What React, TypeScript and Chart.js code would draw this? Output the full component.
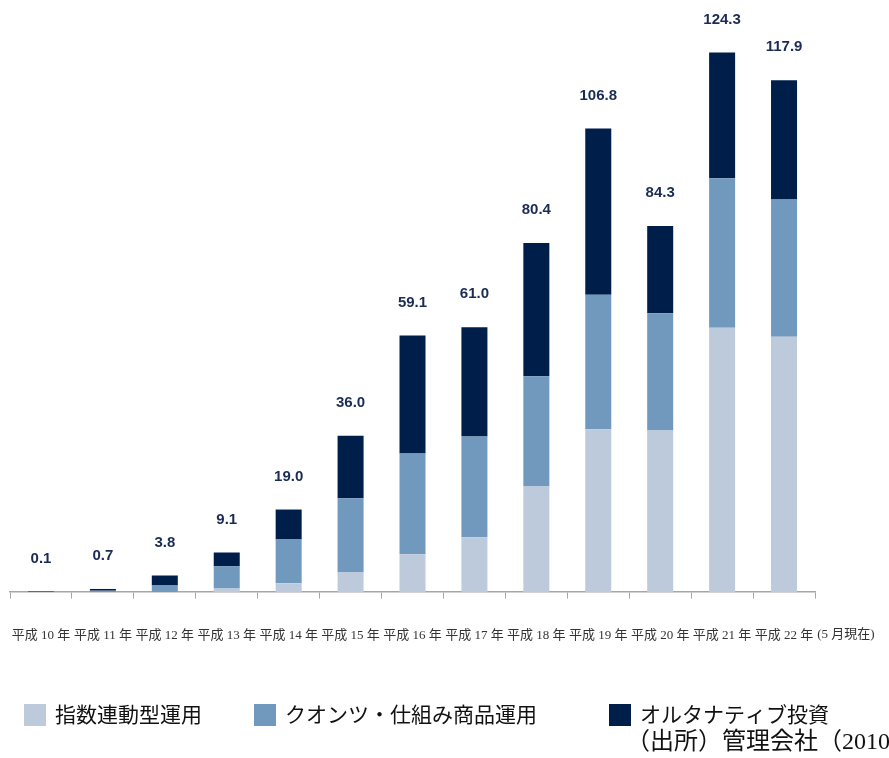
import React, { useEffect, useRef } from "react";
import { Chart, registerables } from "chart.js";

Chart.register(...registerables);

const categories: string[] = [
  "平成 10 年",
  "平成 11 年",
  "平成 12 年",
  "平成 13 年",
  "平成 14 年",
  "平成 15 年",
  "平成 16 年",
  "平成 17 年",
  "平成 18 年",
  "平成 19 年",
  "平成 20 年",
  "平成 21 年",
  "平成 22 年",
];
const lastCategoryNote = "(5 月現在)";

const indexLinked: number[] = [0, 0, 0, 0.8, 2.0, 4.5, 8.7, 12.6, 24.3, 37.5, 37.2, 60.9, 58.8];
const quantStructured: number[] = [0, 0.3, 1.5, 5.1, 10.1, 17.1, 23.2, 23.2, 25.4, 31.0, 27.0, 34.4, 31.6];
const alternative: number[] = [0.1, 0.4, 2.3, 3.2, 6.9, 14.4, 27.2, 25.2, 30.7, 38.3, 20.1, 29.0, 27.5];
const totals: number[] = [0.1, 0.7, 3.8, 9.1, 19.0, 36.0, 59.1, 61.0, 80.4, 106.8, 84.3, 124.3, 117.9];

const seriesNames: string[] = ["指数連動型運用", "クオンツ・仕組み商品運用", "オルタナティブ投資"];
const sourceLabel = "（出所）";
const sourceText = "管理会社（2010年5月現在）";

const COLORS = ["#bccadc", "#7099bd", "#001e4a"];
const TICK_FONT = '13px "Liberation Serif", "Noto Sans CJK JP", serif';

const totalsPlugin = {
  id: "totalsLabels",
  afterDatasetsDraw(chart: any) {
    const { ctx } = chart;
    const xs = chart.scales.x;
    const ys = chart.scales.y;
    ctx.save();
    ctx.font = 'bold 15px "Liberation Sans", Arial, sans-serif';
    ctx.fillStyle = "#1a2b54";
    ctx.textAlign = "center";
    ctx.textBaseline = "middle";
    totals.forEach((t, i) => {
      ctx.fillText(t.toFixed(1), xs.getPixelForValue(i), ys.getPixelForValue(t) - 33);
    });
    ctx.restore();
  },
};

const lastNotePlugin = {
  id: "lastCategoryNote",
  afterDraw(chart: any) {
    const { ctx } = chart;
    const xs = chart.scales.x;
    const last = categories.length - 1;
    ctx.save();
    ctx.font = TICK_FONT;
    ctx.fillStyle = "#333";
    ctx.textBaseline = "middle";
    ctx.textAlign = "left";
    const w = ctx.measureText(categories[last]).width;
    const cx = xs.getPixelForValue(last);
    const y = xs.top + 28 + 8 + 7;
    ctx.fillText(lastCategoryNote, cx + w / 2 + 4, y);
    ctx.restore();
  },
};

const legendPlugin = {
  id: "customLegend",
  afterDraw(chart: any) {
    const { ctx } = chart;
    const xPos = [24, 254, 609];
    ctx.save();
    ctx.textBaseline = "middle";
    ctx.textAlign = "left";
    ctx.font = '21px "Noto Sans CJK JP", sans-serif';
    chart.data.datasets.forEach((ds: any, i: number) => {
      ctx.fillStyle = ds.backgroundColor;
      ctx.fillRect(xPos[i], 704, 22, 22);
      ctx.fillStyle = "#111";
      ctx.fillText(ds.label, xPos[i] + 31, 714);
    });
    ctx.font = '24px "Liberation Serif", "Noto Sans CJK JP", serif';
    ctx.fillStyle = "#111";
    ctx.fillText(sourceLabel, 626, 743);
    ctx.fillText(sourceText, 722, 743);
    ctx.restore();
  },
};

export default function App() {
  const ref = useRef<HTMLCanvasElement | null>(null);

  useEffect(() => {
    if (!ref.current) return;
    const chart = new Chart(ref.current, {
      type: "bar",
      data: {
        labels: categories,
        datasets: [
          { label: seriesNames[0], data: indexLinked, backgroundColor: COLORS[0] },
          { label: seriesNames[1], data: quantStructured, backgroundColor: COLORS[1] },
          { label: seriesNames[2], data: alternative, backgroundColor: COLORS[2] },
        ],
      },
      options: {
        animation: false,
        responsive: true,
        maintainAspectRatio: false,
        datasets: { bar: { categoryPercentage: 0.42, barPercentage: 1 } } as any,
        layout: { padding: { left: 10, right: 74, top: 6, bottom: 116 } },
        plugins: {
          legend: { display: false },
          tooltip: { enabled: false },
        },
        scales: {
          x: {
            stacked: true,
            offset: true,
            grid: {
              offset: true,
              drawOnChartArea: false,
              drawTicks: true,
              tickLength: 28,
              tickBorderDash: [6, 100],
              color: "#a6a6a6",
            },
            border: { color: "#a6a6a6", width: 1.5 },
            ticks: {
              autoSkip: false,
              maxRotation: 0,
              minRotation: 0,
              padding: 8,
              color: "#333",
              font: { family: '"Liberation Serif", "Noto Sans CJK JP", serif', size: 13 },
            },
            afterFit(scale: any) {
              scale.height = 50;
            },
          } as any,
          y: {
            stacked: true,
            display: false,
            min: 0,
            max: 135,
          },
        },
      },
      plugins: [totalsPlugin, lastNotePlugin, legendPlugin],
    });
    return () => chart.destroy();
  }, []);

  return (
    <div style={{ position: "fixed", left: 0, top: 0, width: 889, height: 758, background: "#fff" }}>
      <canvas ref={ref} />
    </div>
  );
}
